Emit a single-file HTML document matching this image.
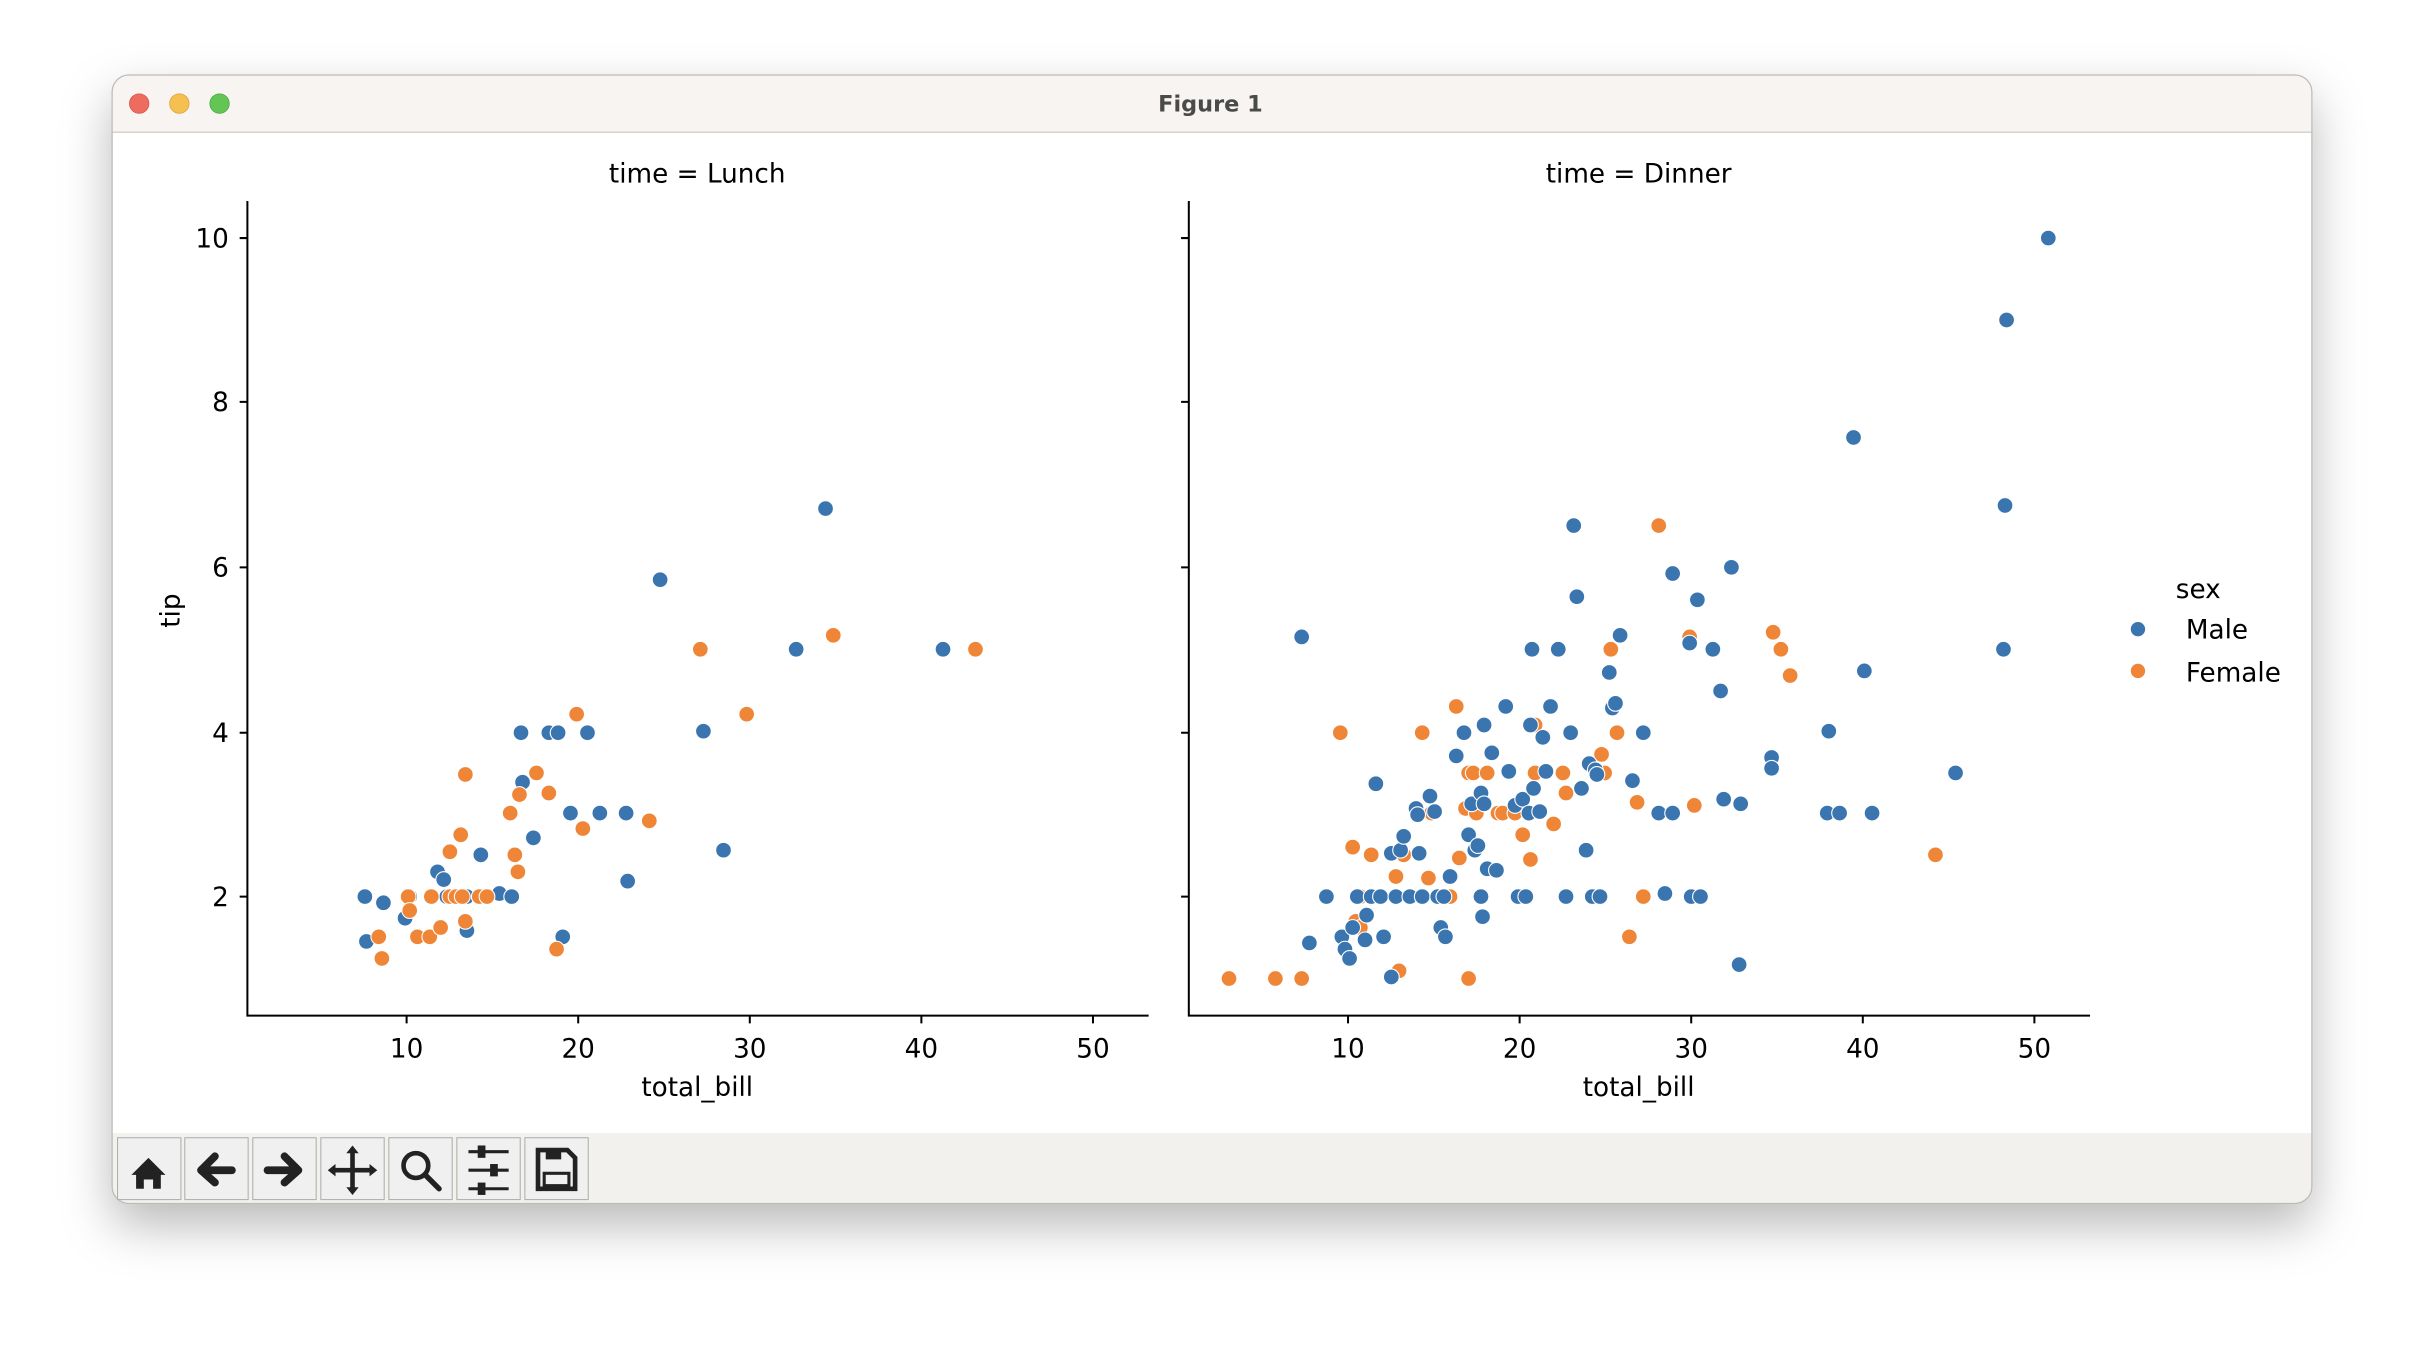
<!DOCTYPE html>
<html><head><meta charset="utf-8"><style>
html,body{margin:0;padding:0;background:#fff;width:2424px;height:1352px;overflow:hidden}
svg{display:block}
text{font-family:"DejaVu Sans","Liberation Sans",sans-serif;fill:#000}
.m circle{r:5.1px}
</style></head><body>
<svg width="2424" height="1352" viewBox="0 0 1568 874.6" xmlns="http://www.w3.org/2000/svg">
<defs>
<filter id="sh" x="-10%" y="-10%" width="120%" height="130%"><feDropShadow dx="0" dy="14" stdDeviation="16" flood-color="#000" flood-opacity="0.28"/></filter>
<clipPath id="win"><rect x="72.5" y="48.5" width="1423" height="730" rx="11"/></clipPath>
</defs>
<rect x="72.5" y="48.5" width="1423" height="730" rx="11" fill="#fff" filter="url(#sh)"/>
<g clip-path="url(#win)">
<rect x="72" y="48" width="1424" height="38" fill="#f8f4f1"/>
<line x1="72" y1="85.5" x2="1496" y2="85.5" stroke="#d8d5d2" stroke-width="1"/>
<rect x="72" y="733" width="1424" height="46" fill="#f3f1ed"/>
</g>
<rect x="72.5" y="48.5" width="1423" height="730" rx="11" fill="none" stroke="#bdbbb8" stroke-width="0.8"/>
<circle cx="90" cy="67" r="6.3" fill="#ee6b5f" stroke="#d8564a" stroke-width="0.5"/>
<circle cx="116" cy="67" r="6.3" fill="#f5c04f" stroke="#dca33a" stroke-width="0.5"/>
<circle cx="142" cy="67" r="6.3" fill="#62c554" stroke="#4ead41" stroke-width="0.5"/>
<text x="783" y="72" text-anchor="middle" font-size="14.5" font-weight="bold" style="fill:#4a4a4a">Figure 1</text>

<g fill="#f0f0f0" stroke="#b0b0b0" stroke-width="0.7">
<rect x="76" y="736" width="41" height="40"/><rect x="119.5" y="736" width="41" height="40"/><rect x="163.5" y="736" width="41" height="40"/><rect x="207.5" y="736" width="41" height="40"/><rect x="251.5" y="736" width="41" height="40"/><rect x="295.5" y="736" width="41" height="40"/><rect x="339.5" y="736" width="41" height="40"/>
</g>
<g fill="#222" stroke="#222">
<path d="M85 760 L96 749 L107 760 L104 760 L104 769 L99 769 L99 763 L93 763 L93 769 L88 769 L88 760 Z" stroke="none"/>
<path d="M130 757 L139 748 M130 757 L139 765 M130 757 L150 757" stroke-width="5" stroke-linecap="round" fill="none"/>
<path d="M193 757 L184 748 M193 757 L184 765 M193 757 L173 757" stroke-width="5" stroke-linecap="round" fill="none"/>
<path d="M228 743 L228 771 M214 757 L242 757" stroke-width="3" fill="none"/>
<path d="M228 741 L232 746 L224 746 Z M228 773 L232 768 L224 768 Z M212 757 L217 753 L217 761 Z M244 757 L239 753 L239 761 Z" stroke="none"/>
<circle cx="269" cy="754" r="8" fill="none" stroke-width="3"/><path d="M275 760 L284 769" stroke-width="3.5" stroke-linecap="round"/>
<path d="M303 745 L329 745 M303 757 L329 757 M303 769 L329 769" stroke-width="2"/>
<rect x="309" y="741" width="5" height="8" stroke="none"/><rect x="317" y="753" width="5" height="8" stroke="none"/><rect x="309" y="765" width="5" height="8" stroke="none"/>
<path d="M348 744 L367 744 L372 749 L372 769 L348 769 Z" fill="none" stroke-width="3"/>
<rect x="353" y="744" width="10" height="6" stroke="none"/><rect x="352" y="759" width="16" height="8" fill="none" stroke-width="2"/>
</g>

<g stroke="#000" stroke-width="1.3" fill="none">
<path d="M160 130 L160 657 L743 657"/>
<path d="M263 657 v5 M374 657 v5 M485 657 v5 M596 657 v5 M707 657 v5"/>
<path d="M160 580 h-5 M160 474 h-5 M160 367 h-5 M160 260 h-5 M160 154 h-5"/>
<path d="M769 130 L769 657 L1352 657"/>
<path d="M872 657 v5 M983 657 v5 M1094 657 v5 M1205 657 v5 M1316 657 v5"/>
<path d="M769 580 h-5 M769 474 h-5 M769 367 h-5 M769 260 h-5 M769 154 h-5"/>
</g>
<g font-size="17" text-anchor="middle">
<text x="263" y="684">10</text><text x="374" y="684">20</text><text x="485" y="684">30</text><text x="596" y="684">40</text><text x="707" y="684">50</text>
<text x="872" y="684">10</text><text x="983" y="684">20</text><text x="1094" y="684">30</text><text x="1205" y="684">40</text><text x="1316" y="684">50</text>
<text x="451" y="709">total_bill</text><text x="1060" y="709">total_bill</text>
<text x="451" y="118">time = Lunch</text><text x="1060" y="118">time = Dinner</text>
<text x="116" y="395" transform="rotate(-90 116 395)">tip</text>
</g>
<g font-size="17" text-anchor="end">
<text x="148" y="586">2</text><text x="148" y="480">4</text><text x="148" y="373">6</text><text x="148" y="266">8</text><text x="148" y="160">10</text>
</g>
<text x="1422" y="387" font-size="17" text-anchor="middle">sex</text>
<text x="1414" y="413" font-size="17">Male</text>
<text x="1414" y="441" font-size="17">Female</text>
<circle cx="1383" cy="407" r="5" fill="#3a75af" stroke="#fff" stroke-width="0.7"/>
<circle cx="1383" cy="434" r="5" fill="#ef8637" stroke="#fff" stroke-width="0.7"/>

<g class="m" fill="#3a75af" stroke="#fff" stroke-width="0.7">
<circle cx="236" cy="580" r="5.1"/><circle cx="237" cy="609" r="5.1"/><circle cx="248" cy="584" r="5.1"/><circle cx="262" cy="594" r="5.1"/><circle cx="265" cy="580" r="5.1"/><circle cx="283" cy="564" r="5.1"/><circle cx="287" cy="569" r="5.1"/><circle cx="289" cy="580" r="5.1"/><circle cx="302" cy="580" r="5.1"/><circle cx="302" cy="602" r="5.1"/><circle cx="311" cy="553" r="5.1"/><circle cx="323" cy="578" r="5.1"/><circle cx="331" cy="580" r="5.1"/><circle cx="337" cy="474" r="5.1"/><circle cx="338" cy="506" r="5.1"/><circle cx="345" cy="542" r="5.1"/><circle cx="355" cy="474" r="5.1"/><circle cx="361" cy="474" r="5.1"/><circle cx="369" cy="526" r="5.1"/><circle cx="380" cy="474" r="5.1"/><circle cx="388" cy="526" r="5.1"/><circle cx="405" cy="526" r="5.1"/><circle cx="406" cy="570" r="5.1"/><circle cx="364" cy="606" r="5.1"/><circle cx="427" cy="375" r="5.1"/><circle cx="455" cy="473" r="5.1"/><circle cx="468" cy="550" r="5.1"/><circle cx="515" cy="420" r="5.1"/><circle cx="534" cy="329" r="5.1"/><circle cx="610" cy="420" r="5.1"/>
</g>
<g class="m" fill="#ef8637" stroke="#fff" stroke-width="0.7">
<circle cx="245" cy="606" r="5.1"/><circle cx="247" cy="620" r="5.1"/><circle cx="264" cy="580" r="5.1"/><circle cx="265" cy="589" r="5.1"/><circle cx="270" cy="606" r="5.1"/><circle cx="278" cy="606" r="5.1"/><circle cx="279" cy="580" r="5.1"/><circle cx="285" cy="600" r="5.1"/><circle cx="291" cy="551" r="5.1"/><circle cx="291" cy="580" r="5.1"/><circle cx="295" cy="580" r="5.1"/><circle cx="298" cy="540" r="5.1"/><circle cx="299" cy="580" r="5.1"/><circle cx="301" cy="501" r="5.1"/><circle cx="301" cy="596" r="5.1"/><circle cx="310" cy="580" r="5.1"/><circle cx="315" cy="580" r="5.1"/><circle cx="330" cy="526" r="5.1"/><circle cx="333" cy="553" r="5.1"/><circle cx="335" cy="564" r="5.1"/><circle cx="336" cy="514" r="5.1"/><circle cx="347" cy="500" r="5.1"/><circle cx="355" cy="513" r="5.1"/><circle cx="360" cy="614" r="5.1"/><circle cx="373" cy="462" r="5.1"/><circle cx="377" cy="536" r="5.1"/><circle cx="420" cy="531" r="5.1"/><circle cx="453" cy="420" r="5.1"/><circle cx="483" cy="462" r="5.1"/><circle cx="539" cy="411" r="5.1"/><circle cx="631" cy="420" r="5.1"/>
</g>
<g class="m" fill="#ef8637" stroke="#fff" stroke-width="0.7">
<circle cx="795" cy="633" r="5.1"/><circle cx="825" cy="633" r="5.1"/><circle cx="842" cy="633" r="5.1"/><circle cx="867" cy="474" r="5.1"/><circle cx="875" cy="548" r="5.1"/><circle cx="877" cy="596" r="5.1"/><circle cx="880" cy="580" r="5.1"/><circle cx="880" cy="600" r="5.1"/><circle cx="887" cy="553" r="5.1"/><circle cx="903" cy="567" r="5.1"/><circle cx="905" cy="628" r="5.1"/><circle cx="908" cy="553" r="5.1"/><circle cx="920" cy="474" r="5.1"/><circle cx="924" cy="568" r="5.1"/><circle cx="926" cy="526" r="5.1"/><circle cx="938" cy="580" r="5.1"/><circle cx="942" cy="457" r="5.1"/><circle cx="944" cy="555" r="5.1"/><circle cx="948" cy="523" r="5.1"/><circle cx="950" cy="500" r="5.1"/><circle cx="950" cy="633" r="5.1"/><circle cx="953" cy="500" r="5.1"/><circle cx="955" cy="526" r="5.1"/><circle cx="962" cy="500" r="5.1"/><circle cx="969" cy="526" r="5.1"/><circle cx="972" cy="526" r="5.1"/><circle cx="980" cy="526" r="5.1"/><circle cx="985" cy="540" r="5.1"/><circle cx="990" cy="556" r="5.1"/><circle cx="993" cy="469" r="5.1"/><circle cx="993" cy="500" r="5.1"/><circle cx="1005" cy="533" r="5.1"/><circle cx="1011" cy="500" r="5.1"/><circle cx="1013" cy="513" r="5.1"/><circle cx="1036" cy="488" r="5.1"/><circle cx="1038" cy="500" r="5.1"/><circle cx="1042" cy="420" r="5.1"/><circle cx="1046" cy="474" r="5.1"/><circle cx="1054" cy="606" r="5.1"/><circle cx="1059" cy="519" r="5.1"/><circle cx="1063" cy="580" r="5.1"/><circle cx="1073" cy="340" r="5.1"/><circle cx="1093" cy="412" r="5.1"/><circle cx="1096" cy="521" r="5.1"/><circle cx="1147" cy="409" r="5.1"/><circle cx="1152" cy="420" r="5.1"/><circle cx="1158" cy="437" r="5.1"/><circle cx="1252" cy="553" r="5.1"/>
</g>
<g class="m" fill="#3a75af" stroke="#fff" stroke-width="0.7">
<circle cx="842" cy="412" r="5.1"/><circle cx="858" cy="580" r="5.1"/><circle cx="847" cy="610" r="5.1"/><circle cx="868" cy="606" r="5.1"/><circle cx="870" cy="614" r="5.1"/><circle cx="873" cy="620" r="5.1"/><circle cx="875" cy="600" r="5.1"/><circle cx="878" cy="580" r="5.1"/><circle cx="883" cy="608" r="5.1"/><circle cx="884" cy="592" r="5.1"/><circle cx="887" cy="580" r="5.1"/><circle cx="890" cy="507" r="5.1"/><circle cx="893" cy="580" r="5.1"/><circle cx="895" cy="606" r="5.1"/><circle cx="900" cy="632" r="5.1"/><circle cx="900" cy="552" r="5.1"/><circle cx="903" cy="580" r="5.1"/><circle cx="906" cy="550" r="5.1"/><circle cx="908" cy="541" r="5.1"/><circle cx="912" cy="580" r="5.1"/><circle cx="916" cy="523" r="5.1"/><circle cx="917" cy="527" r="5.1"/><circle cx="918" cy="552" r="5.1"/><circle cx="920" cy="580" r="5.1"/><circle cx="925" cy="515" r="5.1"/><circle cx="928" cy="525" r="5.1"/><circle cx="930" cy="580" r="5.1"/><circle cx="932" cy="600" r="5.1"/><circle cx="934" cy="580" r="5.1"/><circle cx="935" cy="606" r="5.1"/><circle cx="938" cy="567" r="5.1"/><circle cx="942" cy="489" r="5.1"/><circle cx="947" cy="474" r="5.1"/><circle cx="950" cy="540" r="5.1"/><circle cx="952" cy="520" r="5.1"/><circle cx="954" cy="550" r="5.1"/><circle cx="956" cy="547" r="5.1"/><circle cx="958" cy="580" r="5.1"/><circle cx="958" cy="513" r="5.1"/><circle cx="960" cy="469" r="5.1"/><circle cx="960" cy="520" r="5.1"/><circle cx="959" cy="593" r="5.1"/><circle cx="962" cy="562" r="5.1"/><circle cx="965" cy="487" r="5.1"/><circle cx="968" cy="563" r="5.1"/><circle cx="974" cy="457" r="5.1"/><circle cx="976" cy="499" r="5.1"/><circle cx="980" cy="521" r="5.1"/><circle cx="982" cy="580" r="5.1"/><circle cx="985" cy="517" r="5.1"/><circle cx="987" cy="580" r="5.1"/><circle cx="989" cy="526" r="5.1"/><circle cx="990" cy="469" r="5.1"/><circle cx="991" cy="420" r="5.1"/><circle cx="992" cy="510" r="5.1"/><circle cx="996" cy="525" r="5.1"/><circle cx="998" cy="477" r="5.1"/><circle cx="1000" cy="499" r="5.1"/><circle cx="1003" cy="457" r="5.1"/><circle cx="1008" cy="420" r="5.1"/><circle cx="1013" cy="580" r="5.1"/><circle cx="1016" cy="474" r="5.1"/><circle cx="1018" cy="340" r="5.1"/><circle cx="1020" cy="386" r="5.1"/><circle cx="1023" cy="510" r="5.1"/><circle cx="1026" cy="550" r="5.1"/><circle cx="1028" cy="494" r="5.1"/><circle cx="1030" cy="580" r="5.1"/><circle cx="1032" cy="498" r="5.1"/><circle cx="1033" cy="501" r="5.1"/><circle cx="1035" cy="580" r="5.1"/><circle cx="1041" cy="435" r="5.1"/><circle cx="1043" cy="458" r="5.1"/><circle cx="1045" cy="455" r="5.1"/><circle cx="1048" cy="411" r="5.1"/><circle cx="1056" cy="505" r="5.1"/><circle cx="1063" cy="474" r="5.1"/><circle cx="1073" cy="526" r="5.1"/><circle cx="1077" cy="578" r="5.1"/><circle cx="1082" cy="526" r="5.1"/><circle cx="1082" cy="371" r="5.1"/><circle cx="1093" cy="416" r="5.1"/><circle cx="1094" cy="580" r="5.1"/><circle cx="1098" cy="388" r="5.1"/><circle cx="1100" cy="580" r="5.1"/><circle cx="1108" cy="420" r="5.1"/><circle cx="1113" cy="447" r="5.1"/><circle cx="1115" cy="517" r="5.1"/><circle cx="1120" cy="367" r="5.1"/><circle cx="1125" cy="624" r="5.1"/><circle cx="1126" cy="520" r="5.1"/><circle cx="1146" cy="490" r="5.1"/><circle cx="1146" cy="497" r="5.1"/><circle cx="1183" cy="473" r="5.1"/><circle cx="1182" cy="526" r="5.1"/><circle cx="1190" cy="526" r="5.1"/><circle cx="1211" cy="526" r="5.1"/><circle cx="1206" cy="434" r="5.1"/><circle cx="1199" cy="283" r="5.1"/><circle cx="1265" cy="500" r="5.1"/><circle cx="1296" cy="420" r="5.1"/><circle cx="1297" cy="327" r="5.1"/><circle cx="1298" cy="207" r="5.1"/><circle cx="1325" cy="154" r="5.1"/>
</g>
</svg>
</body></html>
